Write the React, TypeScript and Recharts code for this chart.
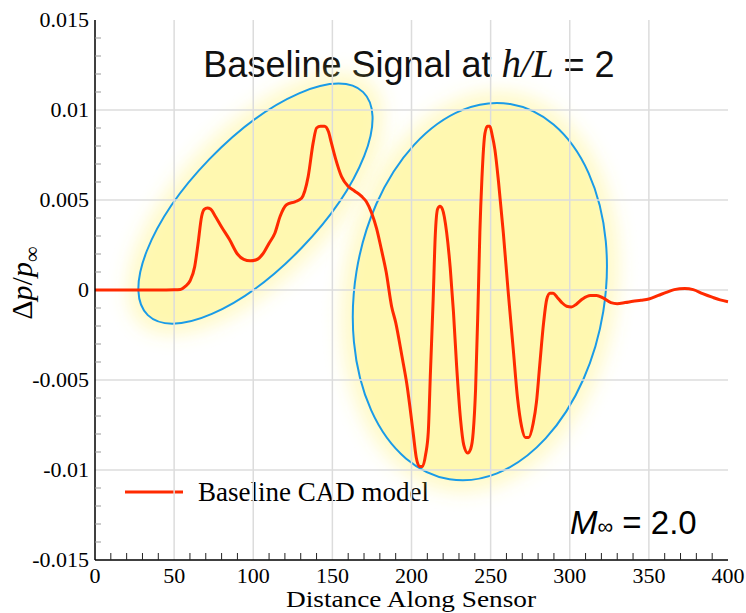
import {
  Customized,
  Line,
  LineChart,
  ReferenceDot,
  XAxis,
  YAxis,
} from "recharts";

// distance along sensor
const distance = [
  0, 20, 40, 50, 54, 57, 60, 63, 65, 67.4, 69, 71, 73, 76, 80, 85, 90, 94, 98, 102,
  106, 110, 113.7, 117, 121, 126.3, 130.5, 134.7, 137.9, 140, 142.5, 145, 147.5, 149.3,
  152, 155.8, 160, 164, 168.5, 171.5, 174.8, 178, 181, 184, 187.4, 190, 194, 197, 201,
  203, 205, 207, 209, 210.6, 212, 213.7, 215, 216.5, 218, 219.5, 222.2, 224.5, 226.5,
  228.5, 231, 233, 235.5, 237.5, 239, 240.5, 242, 243.2, 244.5, 246.4, 248, 249.5, 251,
  252.7, 255, 258, 261, 264.3, 267, 269.6, 272, 274, 276.9, 279, 281, 283.5, 285.5,
  287.5, 289.5, 292, 295, 298, 301, 304, 308, 313, 317, 321, 326, 330, 335, 340, 345,
  350, 356, 361, 366, 372.7, 378, 384, 390, 395, 400,
];

// delta p / p_inf, baseline CAD model
const baseline = [
  0, 0, 0, 0.00001, 0.00003, 0.0002, 0.0005, 0.0013, 0.0025, 0.0041, 0.00448, 0.00456,
  0.0045, 0.0041, 0.0035, 0.0028, 0.002, 0.0017, 0.00162, 0.00168, 0.002, 0.0026,
  0.00317, 0.0041, 0.00474, 0.0049, 0.0051, 0.0063, 0.0082, 0.0090, 0.0091, 0.0091,
  0.0088, 0.0082, 0.0073, 0.0063, 0.00576, 0.0055, 0.0052, 0.0049, 0.00428, 0.0034,
  0.00224, 0.001, -0.0009, -0.0018, -0.0037, -0.0052, -0.0079, -0.0093, -0.0098,
  -0.0098, -0.0091, -0.0079, -0.0045, -0.0005, 0.003, 0.0045, 0.00465, 0.0045, 0.0032,
  0.0012, -0.0012, -0.0042, -0.0072, -0.0086, -0.00905, -0.0088, -0.0079, -0.0055,
  -0.001, 0.0032, 0.0062, 0.0087, 0.0091, 0.0091, 0.0086, 0.0078, 0.006, 0.0032, 0,
  -0.0033, -0.006, -0.0076, -0.0082, -0.0082, -0.0074, -0.0062, -0.0042, -0.0018,
  -0.0005, -0.00018, -0.00018, -0.0004, -0.0007, -0.0009, -0.00094, -0.0008, -0.0005,
  -0.0003, -0.0003, -0.00044, -0.0007, -0.00076, -0.0007, -0.00063, -0.00057, -0.0005,
  -0.0003, -0.00013, 0.00002, 0.00008, 0.00002, -0.0002, -0.0004, -0.00055, -0.00065,
];

const seriesName = "Baseline CAD model";

const xGrid = [50, 100, 150, 200, 250, 300, 350];
const yGrid = [-0.01, -0.005, 0, 0.005, 0.01];
const xMinor = Array.from({ length: 41 }, (_, i) => i * 10);
const yMinor = Array.from({ length: 31 }, (_, i) => (i - 15) / 1000);
const X_DOMAIN: [number, number] = [0, 400];
const Y_DOMAIN: [number, number] = [-0.015, 0.015];

// highlighted regions: centre in data units
const regions = [
  { d: 101.4, p: 0.0048, rx: 155, ry: 64, angle: -46 },
  { d: 243.2, p: -0.00009, rx: 125, ry: 190, angle: 9.2 },
];

const data = distance.map((d, i) => ({ d, p: baseline[i] }));

// grid drawn as thin two-point lines so it sits over the highlights
const gridLines = [
  ...xGrid.map((v) => [{ d: v, p: Y_DOMAIN[0] }, { d: v, p: Y_DOMAIN[1] }]),
  ...yGrid.map((v) => [{ d: X_DOMAIN[0], p: v }, { d: X_DOMAIN[1], p: v }]),
];

const SERIF = "'Liberation Serif', 'Times New Roman', serif";
const SANS = "'Liberation Sans', Arial, Helvetica, sans-serif";

const isMajorX = (v: number) => v % 50 === 0;
const isMajorY = (v: number) => Math.abs(v * 200 - Math.round(v * 200)) < 1e-6;
const fmtY = (v: number) => String(Number(v.toFixed(3)));

function BottomTick({ x, y, payload }: any) {
  const v = payload.value;
  if (isMajorX(v)) {
    return (
      <text x={x} y={y + 23} textAnchor="middle" fontFamily={SERIF} fontSize={22} fill="#000">
        {v}
      </text>
    );
  }
  return <line x1={x} x2={x} y1={y} y2={y - 7} stroke="#222" />;
}

function TopTick({ x, y, payload }: any) {
  if (isMajorX(payload.value)) return <g />;
  return <line x1={x} x2={x} y1={y} y2={y + 7} stroke="#222" />;
}

function LeftTick({ x, y, payload }: any) {
  const v = payload.value;
  if (isMajorY(v)) {
    return (
      <text x={x - 6} y={y + 7} textAnchor="end" fontFamily={SERIF} fontSize={22} fill="#000">
        {fmtY(v)}
      </text>
    );
  }
  return <line x1={x} x2={x + 6} y1={y} y2={y} stroke="#999" />;
}

function RightTick({ x, y, payload }: any) {
  if (isMajorY(payload.value)) return <g />;
  return <line x1={x} x2={x - 6} y1={y} y2={y} stroke="#999" />;
}

function Region({ cx, cy, rx, ry, angle, id }: any) {
  return (
    <g transform={`rotate(${angle} ${cx} ${cy})`}>
      <defs>
        <filter id={id} x="-50%" y="-50%" width="200%" height="200%">
          <feGaussianBlur stdDeviation={9} />
        </filter>
      </defs>
      <ellipse cx={cx} cy={cy} rx={rx + 12} ry={ry + 12} fill="#fff04d" fillOpacity={0.3} filter={`url(#${id})`} />
      <ellipse cx={cx} cy={cy} rx={rx} ry={ry} fill="#fff04d" fillOpacity={0.2} />
      <ellipse cx={cx} cy={cy} rx={rx} ry={ry} fill="none" stroke="#1a9be8" strokeWidth={2} />
    </g>
  );
}

function Annotations() {
  return (
    <g>
      <text x={409} y={77} textAnchor="middle" fontFamily={SANS} fontSize={36} fill="#111">
        Baseline Signal at{" "}
        <tspan fontFamily={SERIF} fontStyle="italic" fontSize={39}>
          h/L
        </tspan>
        <tspan> = 2</tspan>
      </text>
      <text x={570} y={534} fontFamily={SANS} fontSize={33} fill="#000">
        <tspan fontStyle="italic">M</tspan>
        <tspan fontSize={22}>∞</tspan>
        <tspan> = 2.0</tspan>
      </text>
      <text
        x={32}
        y={283}
        transform="rotate(-90 32 283)"
        textAnchor="middle"
        fontFamily={SERIF}
        fontSize={30}
        fill="#000"
      >
        Δ<tspan fontStyle="italic">p</tspan>/<tspan fontStyle="italic">p</tspan>
        <tspan fontSize={22} dy={7}>∞</tspan>
      </text>
      <text
        x={411}
        y={607}
        textAnchor="middle"
        fontFamily={SERIF}
        fontSize={24}
        textLength={250}
        lengthAdjust="spacingAndGlyphs"
        fill="#000"
      >
        Distance Along Sensor
      </text>
      <line x1={125} x2={183} y1={492} y2={492} stroke="#ff2a00" strokeWidth={3} />
      <text x={198} y={501} fontFamily={SERIF} fontSize={27} fill="#000">
        {seriesName}
      </text>
    </g>
  );
}

export default function App() {
  return (
    <div style={{ position: "absolute", left: 0, top: 0, background: "#fff" }}>
      <LineChart width={746} height={613} data={data} margin={{ top: 20, right: 18, bottom: 23, left: 15 }}>
        <XAxis
          dataKey="d"
          type="number"
          domain={X_DOMAIN}
          ticks={xMinor}
          interval={0}
          height={30}
          tickSize={0}
          tickMargin={0}
          tickLine={false}
          tick={<BottomTick />}
          axisLine={{ stroke: "#000", strokeWidth: 1.5 }}
        />
        <XAxis
          xAxisId="top"
          orientation="top"
          dataKey="d"
          type="number"
          domain={X_DOMAIN}
          ticks={xMinor}
          interval={0}
          height={0}
          tickSize={0}
          tickMargin={0}
          tickLine={false}
          tick={<TopTick />}
          axisLine={{ stroke: "#000", strokeWidth: 1.5 }}
        />
        <YAxis
          type="number"
          domain={Y_DOMAIN}
          ticks={yMinor}
          interval={0}
          width={80}
          tickSize={0}
          tickMargin={0}
          tickLine={false}
          tick={<LeftTick />}
          axisLine={{ stroke: "#000", strokeWidth: 1.5 }}
        />
        <YAxis
          yAxisId="right"
          orientation="right"
          type="number"
          domain={Y_DOMAIN}
          ticks={yMinor}
          interval={0}
          width={0}
          tickSize={0}
          tickMargin={0}
          tickLine={false}
          tick={<RightTick />}
          axisLine={{ stroke: "#000", strokeWidth: 1.5 }}
        />
        {regions.map((r, i) => (
          <ReferenceDot
            key={`r${i}`}
            x={r.d}
            y={r.p}
            zIndex={50}
            shape={(props: any) => (
              <Region cx={props.cx} cy={props.cy} rx={r.rx} ry={r.ry} angle={r.angle} id={`glow${i}`} />
            )}
          />
        ))}
        {gridLines.map((g, i) => (
          <Line
            key={`g${i}`}
            data={g}
            dataKey="p"
            type="linear"
            stroke="#dcdcdc"
            strokeWidth={1.5}
            dot={false}
            activeDot={false}
            legendType="none"
            isAnimationActive={false}
          />
        ))}
        {/* invisible twin so the top / right frame axes get drawn */}
        <Line
          xAxisId="top"
          yAxisId="right"
          dataKey="p"
          stroke="none"
          dot={false}
          activeDot={false}
          legendType="none"
          isAnimationActive={false}
        />
        <Line
          type="monotone"
          dataKey="p"
          name={seriesName}
          stroke="#ff2a00"
          strokeWidth={3}
          dot={false}
          isAnimationActive={false}
        />
        <Customized component={Annotations} />
      </LineChart>
    </div>
  );
}
